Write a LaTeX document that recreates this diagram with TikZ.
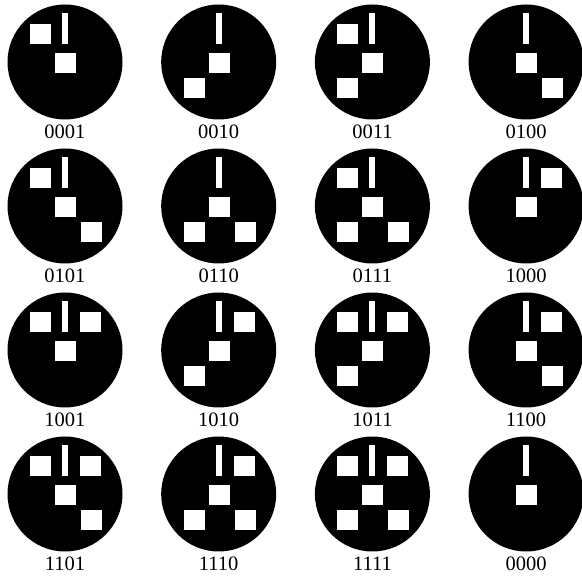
\documentclass[tikz,border=0pt]{standalone}
\usepackage{fontspec}
\setmainfont{Liberation Serif}
\begin{document}
\begin{tikzpicture}[x=1pt,y=-1pt,
  disk/.style={circle,fill=black,minimum size=115pt,inner sep=0pt},
  lbl/.style={font=\fontsize{20.5}{24}\selectfont,inner sep=0pt,anchor=center},
  hole/.style={fill=white}]
\useasboundingbox (0,0) rectangle (582,577);
\foreach \bD/\bC/\bB/\bA/\col/\row in {0/0/0/1/0/0,0/0/1/0/1/0,0/0/1/1/2/0,0/1/0/0/3/0,
                             0/1/0/1/0/1,0/1/1/0/1/1,0/1/1/1/2/1,1/0/0/0/3/1,
                             1/0/0/1/0/2,1/0/1/0/1/2,1/0/1/1/2/2,1/1/0/0/3/2,
                             1/1/0/1/0/3,1/1/1/0/1/3,1/1/1/1/2/3,0/0/0/0/3/3}{
  \pgfmathsetmacro{\cx}{65+153.7*\col}
  \pgfmathsetmacro{\cy}{62+144*\row}
  \node[disk] (d\bD\bC\bB\bA) at (\cx,\cy) {};
  \node[lbl] (t\bD\bC\bB\bA) at (\cx,\cy+70) {\bD\bC\bB\bA};
  \begin{scope}[shift={(\cx,\cy)}]
    \fill[hole] (-3,-49) rectangle (3,-18);
    \fill[hole] (-10,-9) rectangle (11,11);
    \ifnum\bA=1 \fill[hole] (-35,-38) rectangle (-14,-18); \fi
    \ifnum\bB=1 \fill[hole] (-35,16) rectangle (-14,36); \fi
    \ifnum\bC=1 \fill[hole] (16,16) rectangle (37,36); \fi
    \ifnum\bD=1 \fill[hole] (15,-38) rectangle (36,-18); \fi
  \end{scope}
}
\end{tikzpicture}
\end{document}
